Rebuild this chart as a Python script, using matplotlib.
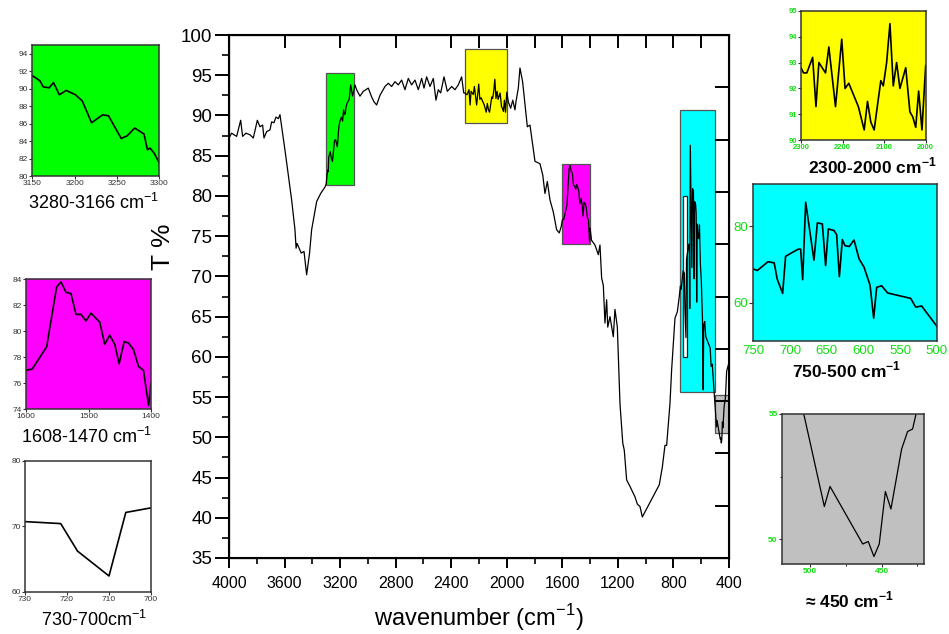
import numpy as np
import matplotlib
matplotlib.use("Agg")
import matplotlib.pyplot as plt
from matplotlib.patches import Rectangle

plt.rcParams['font.family'] = ['Liberation Sans', 'DejaVu Sans']
plt.rcParams['mathtext.fontset'] = 'custom'
plt.rcParams['mathtext.rm'] = 'Liberation Sans'
plt.rcParams['mathtext.bf'] = 'Liberation Sans:bold'

# ---------------- data (wavenumber cm-1, transmittance %) ----------------
seg_a_wn = [4000, 3981, 3964, 3945, 3916, 3902, 3878, 3849, 3825, 3796, 3777, 3758, 3748, 3729,
            3705, 3693, 3676, 3662, 3645, 3633, 3597, 3549, 3525, 3517, 3510, 3480, 3460, 3441,
            3420, 3405, 3369, 3340, 3309]
seg_a_t = [87.2, 87.8, 87.6, 87.4, 89.4, 87.4, 87.8, 87.6, 87.2, 89.4, 88.6, 88.8, 87.2, 88.0,
           88.2, 89.2, 89.1, 89.8, 89.6, 90.1, 85.7, 79.5, 75.8, 73.5, 74.1, 72.9, 73.1, 70.2,
           72.9, 75.8, 79.3, 80.3, 81.1]

green_wn = [3150, 3159, 3163, 3170, 3175, 3182, 3190, 3201, 3209, 3220, 3233, 3240, 3255, 3262,
            3271, 3282, 3286, 3289, 3294, 3300]
green_t = [91.5, 90.9, 90.2, 90.1, 90.7, 89.3, 89.8, 89.3, 88.6, 86.1, 87.0, 86.9, 84.3, 84.6,
           85.5, 84.8, 83.0, 83.2, 82.6, 81.5]

seg_b_wn = [3135, 3124, 3110, 3093, 3081, 3057, 3033, 2997, 2973, 2956, 2937, 2913, 2877, 2853,
            2829, 2805, 2781, 2757, 2733, 2709, 2685, 2661, 2637, 2613, 2596, 2577, 2553, 2529,
            2510, 2493, 2476, 2452, 2428, 2397, 2373, 2349, 2325, 2310]
seg_b_t = [92.0, 93.8, 92.4, 93.8, 93.2, 92.4, 93.0, 93.4, 92.3, 91.7, 91.3, 92.5, 93.6, 94.0,
           93.6, 94.2, 93.8, 94.4, 93.2, 94.6, 93.8, 94.4, 93.2, 94.6, 93.4, 94.8, 93.6, 94.6,
           91.9, 93.2, 92.8, 94.8, 93.0, 93.6, 93.2, 93.8, 94.8, 92.8]

yellow_wn = [2300, 2294, 2286, 2272, 2264, 2257, 2241, 2233, 2217, 2202, 2194, 2185, 2162, 2148,
             2140, 2132, 2124, 2108, 2102, 2094, 2086, 2078, 2070, 2062, 2048, 2038, 2031, 2024,
             2017, 2009, 2000]
yellow_t = [92.8, 92.6, 92.6, 93.2, 91.3, 93.0, 92.6, 93.6, 91.3, 93.9, 92.0, 92.2, 91.3, 90.4,
            91.5, 90.7, 90.4, 92.3, 92.1, 93.0, 94.5, 92.1, 93.0, 92.0, 92.8, 91.1, 90.9, 90.5,
            91.9, 90.4, 92.9]

seg_c_wn = [1989, 1972, 1957, 1941, 1934, 1917, 1905, 1886, 1852, 1833, 1797, 1761, 1741, 1725,
            1708, 1689, 1665, 1641, 1622, 1608]
seg_c_t = [91.7, 90.9, 91.9, 90.7, 91.7, 93.4, 95.9, 94.2, 88.6, 88.8, 84.3, 84.0, 82.6, 80.3,
           81.8, 79.5, 78.0, 75.8, 75.4, 76.2]

magenta_wn = [1600, 1590, 1567, 1551, 1544, 1536, 1528, 1520, 1512, 1504, 1496, 1482, 1474, 1466,
              1458, 1451, 1443, 1436, 1428, 1420, 1412, 1404, 1400]
magenta_t = [77.0, 77.1, 78.8, 83.4, 83.8, 83.0, 82.9, 81.3, 81.3, 80.8, 81.4, 80.7, 79.0, 79.7,
             79.0, 77.5, 79.2, 79.1, 78.6, 77.3, 77.0, 74.3, 76.0]

seg_d_wn = [1390, 1365, 1341, 1329, 1317, 1305, 1293, 1281, 1273, 1257, 1233, 1221, 1204, 1185,
            1165, 1154, 1137, 1113, 1077, 1060, 1041, 1024, 902, 880, 861, 849, 825, 813, 789,
            772, 758]
seg_d_t = [74.5, 73.9, 72.7, 73.9, 69.8, 68.9, 64.2, 67.1, 63.7, 65.0, 62.5, 65.9, 63.7, 54.2,
           49.3, 48.4, 44.7, 43.9, 42.6, 41.7, 41.4, 40.1, 44.1, 46.3, 49.0, 49.0, 54.2, 58.4,
           64.8, 65.6, 67.5]

cyan_wn = [750, 744.5, 730, 721.5, 717.5, 710, 706, 700, 688.6, 685.5, 682.7, 678.6, 667.3,
           662.7, 655.9, 651.4, 647.7, 640.0, 636.4, 632.7, 628.6, 625.0, 619.1, 612.7, 605.9,
           599.1, 590.9, 585.9, 581.8, 575.0, 566.8, 535.5, 528.6, 520.5]
cyan_t = [68.8, 68.4, 70.7, 70.4, 66.2, 62.4, 72.1, 72.8, 74.0, 74.0, 66.0, 86.3, 71.1, 80.9,
          80.6, 69.7, 79.3, 78.9, 77.8, 66.8, 76.5, 74.9, 74.7, 76.4, 71.5, 69.3, 64.6, 55.9,
          64.0, 64.4, 62.5, 61.1, 58.8, 59.1]

gray_wn = [490.1, 486.1, 463.2, 459.3, 455.3, 451.6, 447.3, 443.4, 435.9, 431.7, 428.2, 425.0,
           417, 400]
gray_t = [51.3, 52.1, 49.8, 49.9, 49.3, 49.8, 51.9, 51.2, 53.6, 54.3, 54.4, 55.2, 58.2, 59.3]

# highlighted regions: (x_from, x_to, y_from, y_to, colour)
regions = [
    (3300, 3100, 81.4, 95.3, '#00ff00'),
    (2300, 2000, 89.1, 98.3, '#ffff00'),
    (1600, 1400, 74.0, 84.0, '#ff00ff'),
    (750, 500, 55.6, 90.7, '#00ffff'),
    (730, 700, 60.0, 80.0, '#ffffff'),
    (500, 400, 50.5, 55.3, '#c0c0c0'),
]

x_major = [4000, 3600, 3200, 2800, 2400, 2000, 1600, 1200, 800, 400]
y_major = [35, 40, 45, 50, 55, 60, 65, 70, 75, 80, 85, 90, 95, 100]
top_ticks = [4000, 3600, 3200, 2800, 2400, 2200, 2000, 1800, 1600, 1400, 1200, 1000, 800, 600, 400]
right_ticks = [93.5, 87.0, 80.5, 74.0, 67.5, 61.0, 54.5, 48.0, 41.5]

# ---------------- assemble spectrum ----------------
wn = np.concatenate([seg_a_wn, green_wn, seg_b_wn, yellow_wn, seg_c_wn, magenta_wn,
                     seg_d_wn, cyan_wn, gray_wn]).astype(float)
tt = np.concatenate([seg_a_t, green_t, seg_b_t, yellow_t, seg_c_t, magenta_t,
                     seg_d_t, cyan_t, gray_t]).astype(float)
order = np.argsort(-wn)
wn, tt = wn[order], tt[order]

W, H = 949, 634
fig = plt.figure(figsize=(W / 100, H / 100), dpi=100)


def px_axes(l, t, r, b):
    return fig.add_axes([l / W, 1 - b / H, (r - l) / W, (b - t) / H])


def ftext(x, y, s, **kw):
    fig.text(x / W, 1 - y / H, s, ha=kw.pop('ha', 'center'), va=kw.pop('va', 'center'), **kw)


# ---------------- main axes ----------------
ax = px_axes(229, 35, 729, 558)
for (x0, x1, y0, y1, c) in regions:
    ec = '#222222' if c == '#ffffff' else '#555555'
    ax.add_patch(Rectangle((x1, y0), x0 - x1, y1 - y0, facecolor=c, edgecolor=ec,
                           linewidth=0.9, zorder=1))
ax.plot(wn, tt, color='black', lw=0.9, zorder=3)
ax.set_xlim(4000, 400)
ax.set_ylim(35, 100)
ax.set_xticks(x_major)
ax.set_xticks(np.arange(3800, 400, -400), minor=True)
ax.set_yticks(y_major)
ax.set_yticks(np.arange(37.5, 100, 5), minor=True)
ax.tick_params(axis='x', which='major', direction='out', length=7, width=1.4, labelsize=11.5, pad=6)
ax.tick_params(axis='x', which='minor', direction='out', length=4, width=1.2)
ax.tick_params(axis='y', which='major', direction='out', length=10, width=1.4, labelsize=13.5, pad=2)
ax.tick_params(axis='y', which='minor', direction='out', length=5, width=1.2)
for s in ax.spines.values():
    s.set_linewidth(1.5)
ax.set_xlabel('wavenumber (cm$^{-1}$)', fontsize=17, labelpad=8)
ax.set_ylabel('T %', fontsize=19)
ax.yaxis.set_label_coords(-0.108, 0.595)

axt = ax.twiny()
axt.set_xlim(ax.get_xlim())
axt.set_xticks(top_ticks)
axt.tick_params(axis='x', direction='in', length=9, width=1.4, labeltop=False)

axr = ax.twinx()
axr.set_ylim(ax.get_ylim())
axr.set_yticks(right_ticks)
axr.tick_params(axis='y', direction='in', length=10, width=1.4, labelright=False)


# ---------------- insets ----------------
def style_inset(a, color, lab_color, bold=False, size=5.5):
    a.set_facecolor(color)
    for s in a.spines.values():
        s.set_linewidth(1.1)
        s.set_color('#333333')
    a.tick_params(labelsize=size, labelcolor=lab_color, length=2, width=0.8, pad=1,
                  color='#333333')
    if bold:
        for lab in a.get_xticklabels() + a.get_yticklabels():
            lab.set_fontweight('bold')


LAB_GREEN = '#11dd11'

# green
a = px_axes(32.3, 45, 159.3, 176)
a.plot(wn, tt, color='black', lw=1.2)
a.set_xlim(3150, 3300)
a.set_ylim(80, 95)
a.set_xticks([3150, 3200, 3250, 3300])
a.set_yticks([80, 82, 84, 86, 88, 90, 92, 94])
style_inset(a, '#00ff00', '#333333', size=6)
ftext(94, 203, '3280-3166 cm$^{-1}$', fontsize=13)

# magenta
a = px_axes(26, 279.3, 151, 409.3)
a.plot(wn, tt, color='black', lw=1.2)
a.set_xlim(1600, 1400)
a.set_ylim(74, 84)
a.set_xticks([1600, 1500, 1400])
a.set_yticks([74, 76, 78, 80, 82, 84])
style_inset(a, '#ff00ff', '#333333', size=6)
ftext(87, 437, '1608-1470 cm$^{-1}$', fontsize=13)

# white 730-700
a = px_axes(25, 460.7, 151, 591.7)
a.plot(wn, tt, color='black', lw=1.2)
a.set_xlim(730, 700)
a.set_ylim(60, 80)
a.set_xticks([730, 720, 710, 700])
a.set_yticks([60, 70, 80])
style_inset(a, '#ffffff', '#333333', size=6)
ftext(94, 620, '730-700cm$^{-1}$', fontsize=13)

# yellow
a = px_axes(801, 10.7, 925.7, 140.3)
a.plot(wn, tt, color='black', lw=1.2)
a.set_xlim(2300, 2000)
a.set_ylim(90, 95)
a.set_xticks([2300, 2200, 2100, 2000])
a.set_yticks([90, 91, 92, 93, 94, 95])
style_inset(a, '#ffff00', LAB_GREEN, bold=True)
ftext(808, 166, r'2300-2000 cm$^{\mathbf{-1}}$', fontsize=12.5, fontweight='bold', ha='left')

# cyan
a = px_axes(753.3, 184.3, 936.7, 340.7)
a.plot(wn, tt, color='black', lw=1.2)
a.set_xlim(750, 500)
a.set_ylim(50, 91)
a.set_xticks([750, 700, 650, 600, 550, 500])
a.set_yticks([60, 80])
style_inset(a, '#00ffff', LAB_GREEN, size=9.5)
a.tick_params(axis='x', direction='in', length=0, pad=3)
a.tick_params(axis='y', length=3)
ftext(847, 370, r'750-500 cm$^{\mathbf{-1}}$', fontsize=12.5, fontweight='bold')

# gray
a = px_axes(781.7, 414, 924.3, 564)
a.plot(wn, tt, color='black', lw=0.9)
a.set_xlim(520, 420)
a.set_ylim(49, 55)
a.set_xticks([500, 450])
a.set_xticks([475, 425], minor=True)
a.set_yticks([50, 55])
a.set_yticks([52.5], minor=True)
style_inset(a, '#c0c0c0', LAB_GREEN, bold=True, size=6)
a.tick_params(which='minor', length=1.5, width=0.6)
ftext(849, 600, '\u2248 450 cm$^{\\mathbf{-1}}$', fontsize=12.5, fontweight='bold')

fig.savefig('out.png', dpi=100)
